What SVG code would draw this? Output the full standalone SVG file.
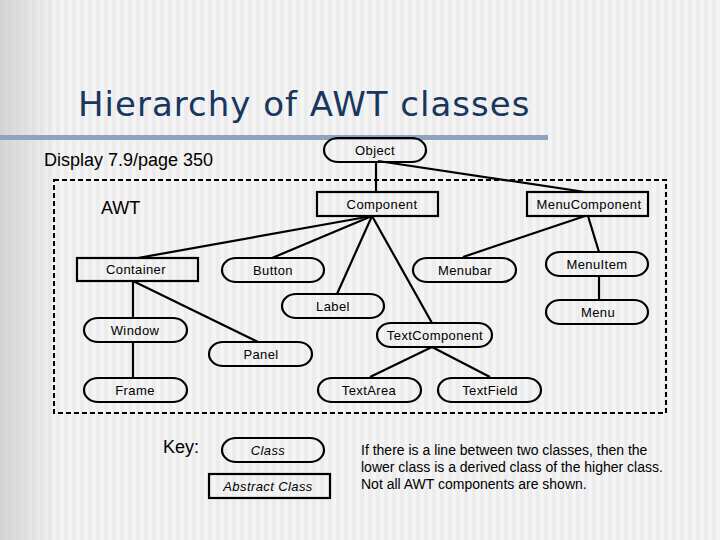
<svg xmlns="http://www.w3.org/2000/svg" width="720" height="540" viewBox="0 0 720 540">
<defs>
<pattern id="stripes" x="0" y="0" width="8" height="540" patternUnits="userSpaceOnUse">
<rect x="0" y="0" width="8" height="540" fill="#f4f4f4"/>
<rect x="0" y="0" width="4" height="540" fill="#ececec"/>
</pattern>
<linearGradient id="leftShade" x1="0" y1="0" x2="1" y2="0">
<stop offset="0" stop-color="#c8c8c8" stop-opacity="0.7"/>
<stop offset="1" stop-color="#c8c8c8" stop-opacity="0"/>
</linearGradient>
<style>
.n{fill:none;stroke:#000;stroke-width:2.2}
.t{font-family:"Liberation Sans",Arial,sans-serif;font-size:13px;letter-spacing:0.4px;fill:#000;text-anchor:middle}
.c{stroke:#000;stroke-width:2.2;fill:none}
.lbl{font-family:"Liberation Sans",Arial,sans-serif;font-size:18px;fill:#000}
.note{font-family:"Liberation Sans",Arial,sans-serif;font-size:14px;fill:#000}
</style>
</defs>
<rect width="720" height="540" fill="url(#stripes)"/>
<rect x="0" y="0" width="60" height="540" fill="url(#leftShade)"/>
<text x="78" y="116" font-family="'DejaVu Sans',Verdana,sans-serif" font-size="34" letter-spacing="1" fill="#17375e">Hierarchy of AWT classes</text>
<rect x="0" y="135" width="548" height="5" fill="#8ea4bd"/>
<text class="lbl" x="44" y="166" font-size="20">Display 7.9/page 350</text>
<rect x="54" y="180" width="612" height="233" fill="none" stroke="#000" stroke-width="2" stroke-dasharray="5,3"/>
<text class="lbl" x="101" y="214">AWT</text>
<g id="connectors">
<line class="c" x1="376" y1="161" x2="376" y2="192"/>
<line class="c" x1="378" y1="161" x2="585" y2="192"/>
<line class="c" x1="372" y1="216" x2="138" y2="258"/>
<line class="c" x1="372" y1="216" x2="272" y2="258"/>
<line class="c" x1="372" y1="216" x2="337" y2="294"/>
<line class="c" x1="372" y1="216" x2="432" y2="323"/>
<line class="c" x1="133" y1="281" x2="133" y2="317"/>
<line class="c" x1="133" y1="281" x2="258" y2="342"/>
<line class="c" x1="133" y1="342" x2="133" y2="377"/>
<line class="c" x1="585" y1="216" x2="463" y2="257"/>
<line class="c" x1="588" y1="216" x2="599" y2="252"/>
<line class="c" x1="599" y1="276" x2="599" y2="300"/>
<line class="c" x1="432" y1="347" x2="370" y2="377"/>
<line class="c" x1="432" y1="347" x2="490" y2="377"/>
</g>
<g id="Object"><rect class="n" x="324" y="138" width="102" height="24" rx="14" ry="12"/><text class="t" x="375" y="155">Object</text></g>
<g id="Component"><rect class="n" x="317" y="192" width="121" height="24"/><text class="t" x="382" y="209">Component</text></g>
<g id="MenuComponent"><rect class="n" x="527" y="192" width="121" height="24"/><text class="t" x="589" y="209">MenuComponent</text></g>
<g id="Container"><rect class="n" x="77" y="258" width="121" height="23"/><text class="t" x="136" y="274">Container</text></g>
<g id="Button"><rect class="n" x="222" y="258" width="102" height="24" rx="14" ry="12"/><text class="t" x="273" y="275">Button</text></g>
<g id="Menubar"><rect class="n" x="413" y="258" width="103" height="24" rx="14" ry="12"/><text class="t" x="465" y="275">Menubar</text></g>
<g id="MenuItem"><rect class="n" x="546" y="252" width="102" height="24" rx="14" ry="12"/><text class="t" x="597" y="269">MenuItem</text></g>
<g id="Menu"><rect class="n" x="546" y="300" width="102" height="24" rx="14" ry="12"/><text class="t" x="598" y="317">Menu</text></g>
<g id="Label"><rect class="n" x="282" y="294" width="102" height="24" rx="14" ry="12"/><text class="t" x="333" y="311">Label</text></g>
<g id="Window"><rect class="n" x="84" y="318" width="103" height="24" rx="14" ry="12"/><text class="t" x="135" y="335">Window</text></g>
<g id="TextComponent"><rect class="n" x="377" y="323" width="115" height="24" rx="14" ry="12"/><text class="t" x="435" y="340">TextComponent</text></g>
<g id="Panel"><rect class="n" x="209" y="342" width="103" height="24" rx="14" ry="12"/><text class="t" x="261" y="359">Panel</text></g>
<g id="Frame"><rect class="n" x="84" y="378" width="103" height="24" rx="14" ry="12"/><text class="t" x="135" y="395">Frame</text></g>
<g id="TextArea"><rect class="n" x="318" y="378" width="103" height="24" rx="14" ry="12"/><text class="t" x="369" y="395">TextArea</text></g>
<g id="TextField"><rect class="n" x="438" y="378" width="103" height="24" rx="14" ry="12"/><text class="t" x="490" y="395">TextField</text></g>
<text class="lbl" x="163" y="453">Key:</text>
<g id="KeyClass"><rect class="n" x="222" y="438" width="102" height="24" rx="14" ry="12"/><text class="t" x="268" y="455" font-style="italic">Class</text></g>
<g id="KeyAbstract"><rect class="n" x="209" y="474" width="121" height="24"/><text class="t" x="268" y="491" font-style="italic">Abstract Class</text></g>
<text class="note" x="361" y="455">If there is a line between two classes, then the</text>
<text class="note" x="361" y="472">lower class is a derived class of the higher class.</text>
<text class="note" x="361" y="489">Not all AWT components are shown.</text>
</svg>
